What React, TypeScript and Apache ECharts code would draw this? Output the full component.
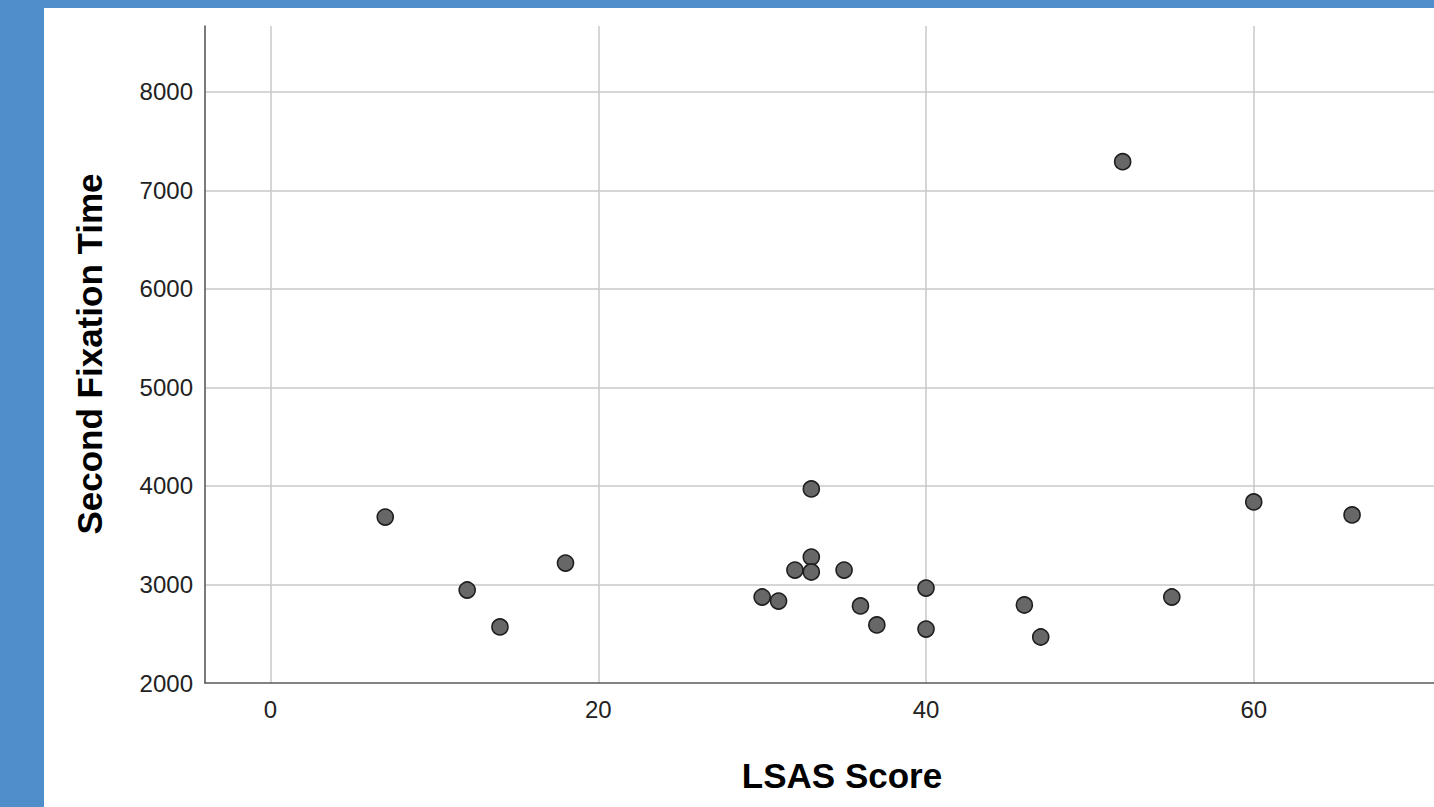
import React, { useEffect, useRef } from "react";
import * as echarts from "echarts";

const lsasScores = [7, 12, 14, 18, 30, 31, 32, 33, 33, 33, 35, 36, 37, 40, 40, 46, 47, 52, 55, 60, 66];
const fixationTimes = [3685, 2944, 2569, 3218, 2873, 2832, 3147, 3970, 3279, 3127, 3147, 2782, 2589, 2964, 2548, 2792, 2467, 7292, 2873, 3838, 3706];
const xTitle = "LSAS Score";
const yTitle = "Second Fixation Time";

const FONT = "'Liberation Sans', Arial, sans-serif";

export default function App() {
  const ref = useRef<HTMLDivElement>(null);
  useEffect(() => {
    if (!ref.current) return;
    const chart = echarts.init(ref.current, null, { renderer: "svg" });
    const data = lsasScores.map((x, i) => [x, fixationTimes[i]]);
    chart.setOption({
      animation: false,
      backgroundColor: "#ffffff",
      grid: { left: 161, top: 18, right: 0, bottom: 124, containLabel: false },
      xAxis: {
        type: "value",
        min: -4,
        max: 71,
        splitNumber: 5,
        axisLine: { show: true, onZero: false, lineStyle: { color: "#5a5a5a", width: 1.6 } },
        axisTick: { show: false },
        axisLabel: {
          showMinLabel: false,
          showMaxLabel: false,
          margin: 14,
          color: "#222",
          fontSize: 24,
          fontFamily: FONT,
          formatter: (v: number) => (v % 20 === 0 ? String(v) : ""),
        },
        splitLine: { show: true, showMinLine: false, showMaxLine: false, lineStyle: { color: "#c9c9c9", width: 1.5 } },
      },
      yAxis: {
        type: "value",
        min: 2000,
        max: 8670,
        interval: 1000,
        axisLine: { show: true, onZero: false, lineStyle: { color: "#5a5a5a", width: 1.6 } },
        axisTick: { show: false },
        axisLabel: {
          showMaxLabel: false,
          margin: 12,
          color: "#222",
          fontSize: 24,
          fontFamily: FONT,
          formatter: (v: number) => (v % 1000 === 0 ? String(v) : ""),
        },
        splitLine: { show: true, showMinLine: false, showMaxLine: false, lineStyle: { color: "#c9c9c9", width: 1.5 } },
      },
      series: [
        {
          type: "scatter",
          data,
          symbol: "circle",
          symbolSize: 16,
          itemStyle: { color: "#676767", borderColor: "#1e1e1e", borderWidth: 1.6, opacity: 1 },
        },
      ],
      graphic: [
        {
          type: "text",
          x: 798,
          y: 767,
          style: {
            text: xTitle,
            fill: "#000",
            font: `bold 35px ${FONT}`,
            align: "center",
            verticalAlign: "middle",
          },
        },
        {
          type: "text",
          x: 45,
          y: 346,
          rotation: Math.PI / 2,
          style: {
            text: yTitle,
            fill: "#000",
            font: `bold 35px ${FONT}`,
            align: "center",
            verticalAlign: "middle",
          },
        },
      ],
    });
    return () => chart.dispose();
  }, []);
  return (
    <div style={{ position: "fixed", left: 0, top: 0, width: 1434, height: 807, background: "#4f8dcb", overflow: "hidden" }}>
      <div ref={ref} style={{ position: "absolute", left: 44, top: 8, width: 1390, height: 799, background: "#fff" }} />
    </div>
  );
}
